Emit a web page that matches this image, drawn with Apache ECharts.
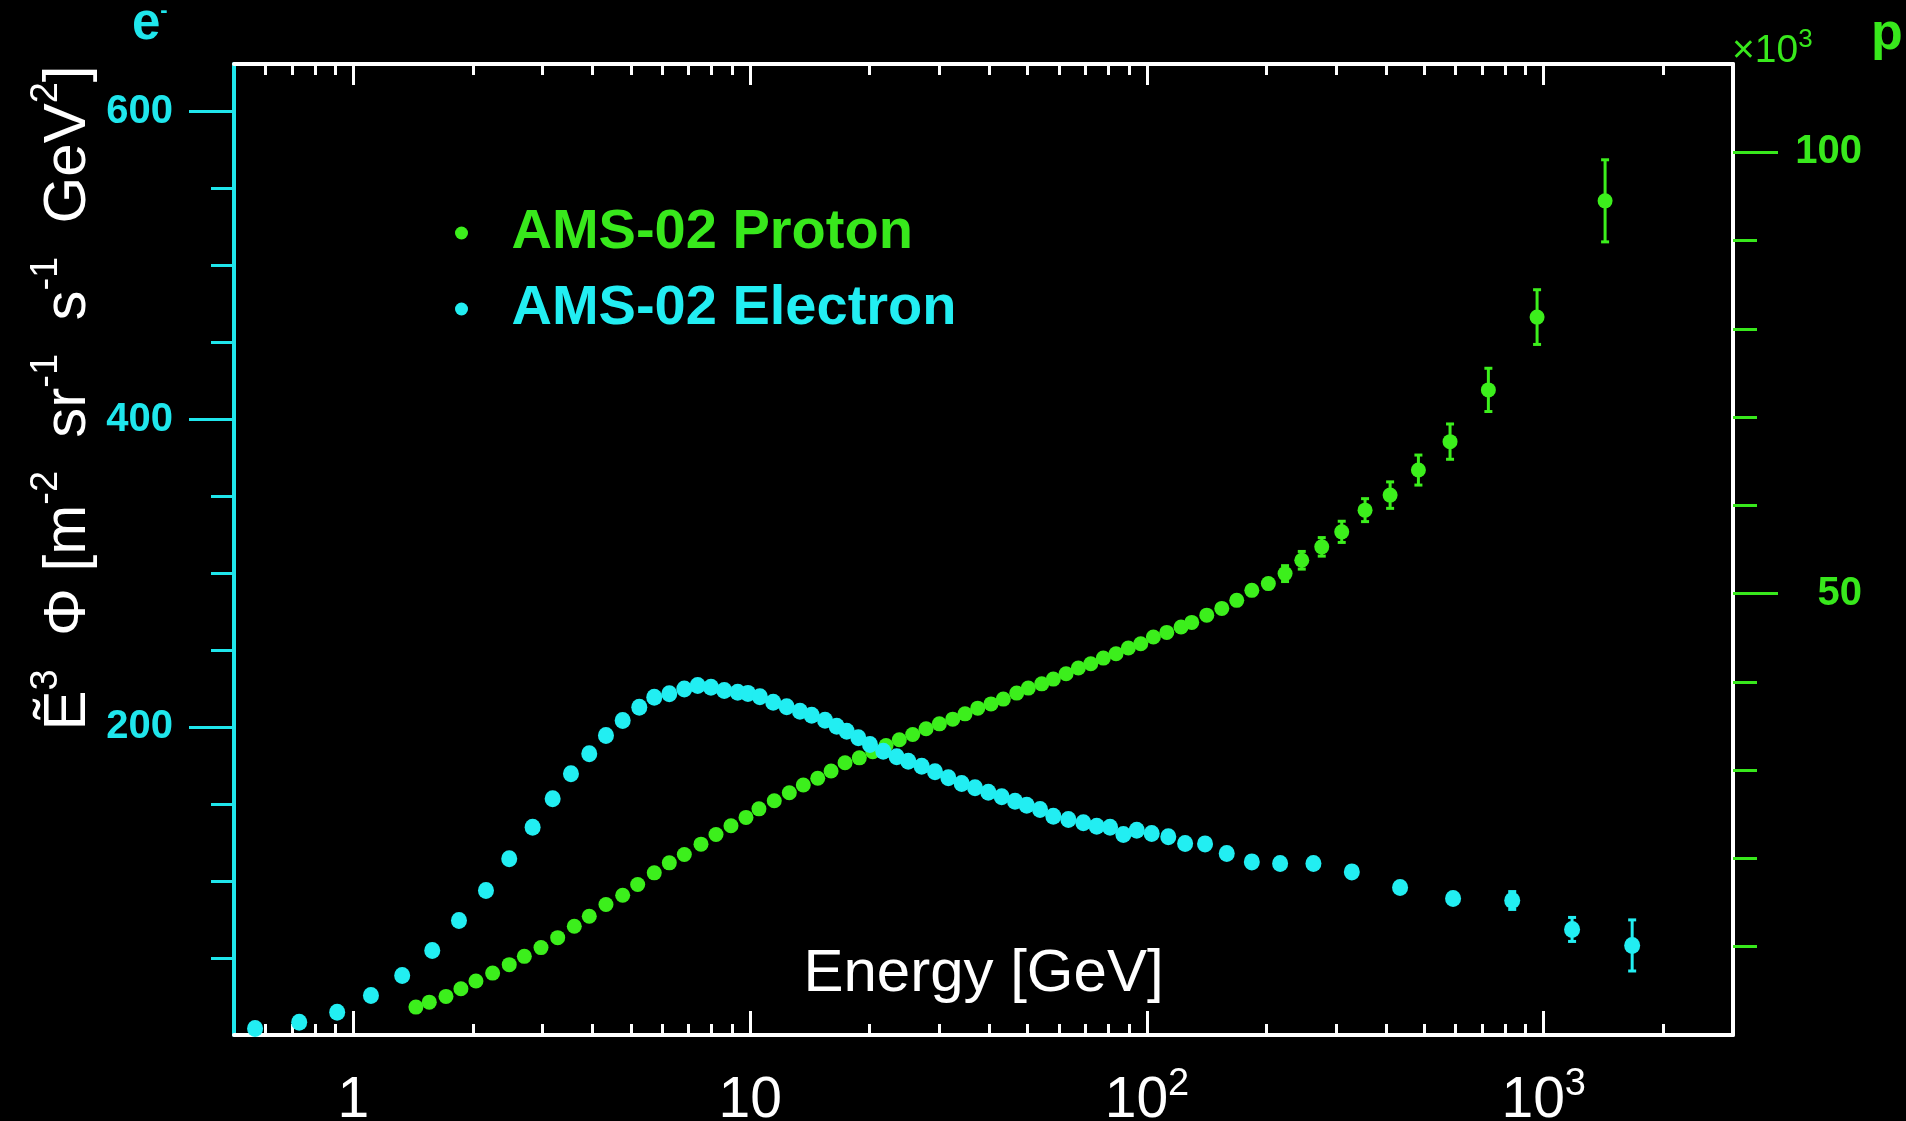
<!DOCTYPE html>
<html>
<head>
<meta charset="utf-8">
<script src="https://cdn.jsdelivr.net/npm/echarts@6/dist/echarts.min.js"></script>
<style>
html,body{margin:0;padding:0;background:#000;}
#chart{width:1906px;height:1121px;}
</style>
</head>
<body>
<div id="chart"></div>
<script>
// ---------------- data ----------------
const electronEnergy = [0.565,0.730,0.910,1.107,1.327,1.580,1.845,2.158,2.470,2.829,3.178,3.534,3.930,4.330,4.771,5.254,5.731,6.254,6.823,7.373,7.964,8.604,9.301,9.87,10.58,11.43,12.36,13.35,14.29,15.44,16.52,17.51,18.73,20.04,21.65,23.40,25.03,27.06,29.23,31.58,34.13,36.87,39.83,43.05,46.51,49.77,53.77,58.08,63.38,69.14,74.71,80.72,87.21,94.25,102.8,113.2,124.8,140.1,158.9,183.8,216.6,262.8,328.4,434.5,591,833,1179,1671];
const electronFlux = [4.2,8.3,14.8,25.7,38.7,54.9,74.4,93.9,114.5,135.0,153.5,169.7,182.7,194.6,204.4,213.0,219.5,221.7,224.9,227.1,226.0,223.8,222.7,222.0,219.8,216.2,213.3,210.4,207.8,204.5,200.6,197.4,193.1,188.8,184.4,180.8,177.9,174.7,171.0,167.1,163.4,160.6,157.8,154.8,151.9,149.3,146.5,142.2,140.0,137.9,135.7,135.0,130.3,133.1,130.9,128.8,124.4,124.2,117.9,112.5,111.4,111.4,106.0,95.8,88.7,87.4,68.6,58.2];
const electronErr = [0,0,0,0,0,0,0,0,0,0,0,0,0,0,0,0,0,0,0,0,0,0,0,0,0,0,0,0,0,0,0,0,0,0,0,0,0,0,0,0,0,0,0,0,0,0,0,0,0,0,0,0,0,0,0,0,0,0,0,0,0,0,0,0,0,5.8,7.8,16.6];

const protonEnergy = [1.437,1.553,1.711,1.866,2.036,2.243,2.470,2.696,2.970,3.272,3.603,3.930,4.330,4.771,5.205,5.731,6.254,6.823,7.516,8.200,8.945,9.759,10.52,11.50,12.55,13.61,14.80,15.99,17.34,18.84,20.36,22.00,23.76,25.68,27.75,29.98,32.40,34.79,37.46,40.46,43.45,46.96,50.23,54.30,58.08,62.54,67.16,72.18,77.64,83.57,89.77,96.46,103.8,112.2,121.9,129.7,141.5,154.4,168.4,183.8,202.3,222.9,245.6,275.8,309.7,354.6,410.1,483.3,580.7,725.4,962.3,1428];
// proton values in units of 10^3
const protonFlux = [3.16,3.72,4.37,5.24,6.11,7.01,7.97,8.91,9.90,11.03,12.32,13.45,14.78,15.83,17.05,18.37,19.50,20.45,21.62,22.72,23.70,24.65,25.62,26.54,27.45,28.32,29.08,29.91,30.85,31.40,32.10,32.80,33.45,34.05,34.70,35.25,35.78,36.38,37.03,37.51,38.05,38.73,39.30,39.78,40.32,40.92,41.57,42.05,42.70,43.19,43.84,44.32,45.09,45.61,46.22,46.74,47.56,48.33,49.24,50.37,51.14,52.27,53.78,55.30,57.00,59.46,61.16,64.00,67.22,73.08,81.33,94.50];
const protonErr = [0,0,0,0,0,0,0,0,0,0,0,0,0,0,0,0,0,0,0,0,0,0,0,0,0,0,0,0,0,0,0,0,0,0,0,0,0,0,0,0,0,0,0,0,0,0,0,0,0,0,0,0,0,0,0,0,0,0,0,0,0,0.9,1.0,1.05,1.2,1.3,1.5,1.7,2.0,2.45,3.1,4.65];

const xMajorTicks = [1,10,100,1000];
const xTickLabels = ['1','10','10^2','10^3'];
const xMinorTicks = [0.6,0.7,0.8,0.9,2,3,4,5,6,7,8,9,20,30,40,50,60,70,80,90,200,300,400,500,600,700,800,900,2000];
const leftMajorTicks = [200,400,600];
const leftTickLabels = ['200','400','600'];
const leftMinorTicks = [50,100,150,250,300,350,450,500,550];
const rightMajorTicks = [50,100];
const rightTickLabels = ['50','100'];
const rightMinorTicks = [10,20,30,40,60,70,80,90];

const seriesNames = ['AMS-02 Proton','AMS-02 Electron'];

// ---------------- style ----------------
const CYAN = '#22eef2';
const CYAN_AX = '#1fe6ec';
const GREEN = '#3cef1c';
const GREEN_TXT = '#38e81c';
const WHITE = '#ffffff';
const FONT = 'Liberation Sans, Arial, Helvetica, sans-serif';

const X_MIN = 0.5, X_MAX = 3000;

function supLabel(s){ return s.replace(/\^(\S+)/, '{sup|$1}'); }
function xLabelFormatter(v){
  for (let i = 0; i < xMajorTicks.length; i++) {
    if (Math.abs(Math.log10(v) - Math.log10(xMajorTicks[i])) < 1e-6) return supLabel(xTickLabels[i]);
  }
  return '';
}
function labelFrom(ticks, labels){
  return function(v){
    for (let i = 0; i < ticks.length; i++) if (Math.abs(v - ticks[i]) < 1e-6) return labels[i];
    return '';
  };
}

function xAxisBase(pos, showLine){
  return {
    type: 'log', logBase: 10, min: X_MIN, max: X_MAX, position: pos,
    axisLine: {show: showLine, onZero: false, lineStyle: {color: WHITE, width: 4}},
    splitLine: {show: false}, minorTick: {show: false}, minorSplitLine: {show: false},
    axisLabel: {show: false}, axisPointer: {show: false}
  };
}

const xAxes = [];
// 0: bottom, major ticks + labels + name
const xb = xAxisBase('bottom', true);
xb.axisTick = {show: true, inside: true, length: 24, customValues: xMajorTicks, lineStyle: {color: WHITE, width: 3}};
xb.axisLabel = {
  show: true, customValues: xMajorTicks, formatter: xLabelFormatter,
  color: WHITE, fontFamily: FONT, fontSize: 57, lineHeight: 70, margin: 31,
  rich: {sup: {fontSize: 38, lineHeight: 38, verticalAlign: 'top', color: WHITE, fontFamily: FONT}}
};
xb.name = 'Energy [GeV]';
xb.nameLocation = 'middle';
xb.nameGap = -61;
xb.nameTextStyle = {color: WHITE, fontFamily: FONT, fontSize: 60, verticalAlign: 'middle'};
xAxes.push(xb);
// 1: bottom minor
const xbm = xAxisBase('bottom', false);
xbm.axisTick = {show: true, inside: true, length: 11, customValues: xMinorTicks, lineStyle: {color: WHITE, width: 3}};
xAxes.push(xbm);
// 2: top major
const xt = xAxisBase('top', true);
xt.axisTick = {show: true, inside: true, length: 21, customValues: xMajorTicks, lineStyle: {color: WHITE, width: 3}};
xAxes.push(xt);
// 3: top minor
const xtm = xAxisBase('top', false);
xtm.axisTick = {show: true, inside: true, length: 11, customValues: xMinorTicks, lineStyle: {color: WHITE, width: 3}};
xAxes.push(xtm);

const L_MAX = 631, R_MAX = 110;
const yAxes = [
  { // 0 left electron axis: minor ticks, labels
    type: 'value', position: 'left', min: 0, max: L_MAX,
    axisLine: {show: true, onZero: false, lineStyle: {color: CYAN_AX, width: 4}},
    axisTick: {show: true, inside: false, length: 23, customValues: leftMinorTicks, lineStyle: {color: CYAN_AX, width: 3}},
    axisLabel: {show: true, customValues: leftMajorTicks, formatter: labelFrom(leftMajorTicks, leftTickLabels),
      color: CYAN_AX, fontFamily: FONT, fontWeight: 'bold', fontSize: 40, margin: 61},
    splitLine: {show: false}, axisPointer: {show: false}
  },
  { // 1 right proton axis
    type: 'value', position: 'right', min: 0, max: R_MAX,
    axisLine: {show: true, onZero: false, lineStyle: {color: WHITE, width: 4}},
    axisTick: {show: true, inside: false, length: 24, customValues: rightMinorTicks, lineStyle: {color: GREEN_TXT, width: 3}},
    axisLabel: {show: true, customValues: rightMajorTicks, formatter: labelFrom(rightMajorTicks, rightTickLabels),
      color: GREEN_TXT, fontFamily: FONT, fontWeight: 'bold', fontSize: 40, margin: 129, align: 'right'},
    splitLine: {show: false}, axisPointer: {show: false}
  },
  { // 2 left major ticks
    type: 'value', position: 'left', min: 0, max: L_MAX,
    axisLine: {show: false, onZero: false},
    axisTick: {show: true, inside: false, length: 45, customValues: leftMajorTicks, lineStyle: {color: CYAN_AX, width: 3}},
    axisLabel: {show: false}, splitLine: {show: false}
  },
  { // 3 right major ticks
    type: 'value', position: 'right', min: 0, max: R_MAX,
    axisLine: {show: false, onZero: false},
    axisTick: {show: true, inside: false, length: 45, customValues: rightMajorTicks, lineStyle: {color: GREEN_TXT, width: 3}},
    axisLabel: {show: false}, splitLine: {show: false}
  }
];

function errorBars(name, xs, ys, es, yIdx, color){
  const data = [];
  for (let i = 0; i < xs.length; i++) if (es[i] > 0) data.push([xs[i], ys[i] - es[i], ys[i] + es[i]]);
  return {
    type: 'custom', name: name, xAxisIndex: 0, yAxisIndex: yIdx, silent: true,
    data: data, encode: {x: 0, y: [1, 2]},
    renderItem: function(params, api){
      const lo = api.coord([api.value(0), api.value(1)]);
      const hi = api.coord([api.value(0), api.value(2)]);
      const w = 4;
      const st = {stroke: color, lineWidth: 3};
      return {type: 'group', children: [
        {type: 'line', shape: {x1: lo[0], y1: lo[1], x2: hi[0], y2: hi[1]}, style: st},
        {type: 'line', shape: {x1: lo[0] - w, y1: lo[1], x2: lo[0] + w, y2: lo[1]}, style: st},
        {type: 'line', shape: {x1: hi[0] - w, y1: hi[1], x2: hi[0] + w, y2: hi[1]}, style: st}
      ]};
    }
  };
}

const protonPoints = protonEnergy.map((e, i) => [e, protonFlux[i]]);
const electronPoints = electronEnergy.map((e, i) => [e, electronFlux[i]]);

const option = {
  backgroundColor: '#000000',
  animation: false,
  grid: {left: 234, right: 173, top: 64, bottom: 86, containLabel: false, outerBoundsMode: 'none'},
  xAxis: xAxes,
  yAxis: yAxes,
  legend: {
    orient: 'vertical', left: 450, top: 200, itemWidth: 90, itemHeight: 13, itemGap: 20,
    icon: 'circle', selectedMode: false,
    textStyle: {fontFamily: FONT, fontWeight: 'bold', fontSize: 56, lineHeight: 56},
    data: [
      {name: seriesNames[0], textStyle: {color: GREEN_TXT}},
      {name: seriesNames[1], textStyle: {color: CYAN}}
    ]
  },
  graphic: [
    { // y-axis title
      type: 'text', x: 68, y: 398, rotation: Math.PI / 2, silent: true,
      style: {
        text: '{n|Ẽ}{s|3}{n|  Φ [m}{s|-2}{n|  sr}{s|-1}{n|  s}{s|-1}{n|  GeV}{s|2}{n|]}',
        align: 'center', verticalAlign: 'middle', fill: WHITE,
        rich: {
          n: {fontSize: 60, lineHeight: 80, fontFamily: FONT, fill: WHITE},
          s: {fontSize: 38, lineHeight: 38, verticalAlign: 'top', fontFamily: FONT, fill: WHITE}
        }
      }
    },
    { // electron axis marker
      type: 'text', x: 132, y: 0, silent: true,
      style: {
        text: '{e|e}{m|-}', align: 'left', verticalAlign: 'top',
        rich: {
          e: {fontSize: 51, lineHeight: 50, fontWeight: 'bold', fontFamily: FONT, fill: CYAN_AX},
          m: {fontSize: 22, lineHeight: 12, verticalAlign: 'top', fontWeight: 'bold', fontFamily: FONT, fill: CYAN_AX}
        }
      }
    },
    { // proton axis multiplier
      type: 'text', x: 1732, y: 27, silent: true,
      style: {
        text: '{a|×10}{b|3}', align: 'left', verticalAlign: 'top',
        rich: {
          a: {fontSize: 39, lineHeight: 48, fontFamily: FONT, fill: GREEN_TXT},
          b: {fontSize: 26, lineHeight: 26, verticalAlign: 'top', fontFamily: FONT, fill: GREEN_TXT}
        }
      }
    },
    { // proton axis marker
      type: 'text', x: 1887, y: 35, silent: true,
      style: {text: 'p', align: 'center', verticalAlign: 'middle', fontSize: 52, fontWeight: 'bold', fontFamily: FONT, fill: GREEN_TXT}
    }
  ],
  series: [
    errorBars('Proton errors', protonEnergy, protonFlux, protonErr, 1, GREEN),
    {
      type: 'scatter', name: seriesNames[0], xAxisIndex: 0, yAxisIndex: 1,
      data: protonPoints, symbol: 'circle', symbolSize: 15,
      itemStyle: {color: GREEN, opacity: 1}, emphasis: {disabled: true}
    },
    errorBars('Electron errors', electronEnergy, electronFlux, electronErr, 0, CYAN),
    {
      type: 'scatter', name: seriesNames[1], xAxisIndex: 0, yAxisIndex: 0,
      data: electronPoints, symbol: 'circle', symbolSize: [16, 17],
      itemStyle: {color: CYAN, opacity: 1}, emphasis: {disabled: true}
    }
  ]
};

const chart = echarts.init(document.getElementById('chart'), null, {renderer: 'canvas'});
chart.setOption(option);
</script>
</body>
</html>
